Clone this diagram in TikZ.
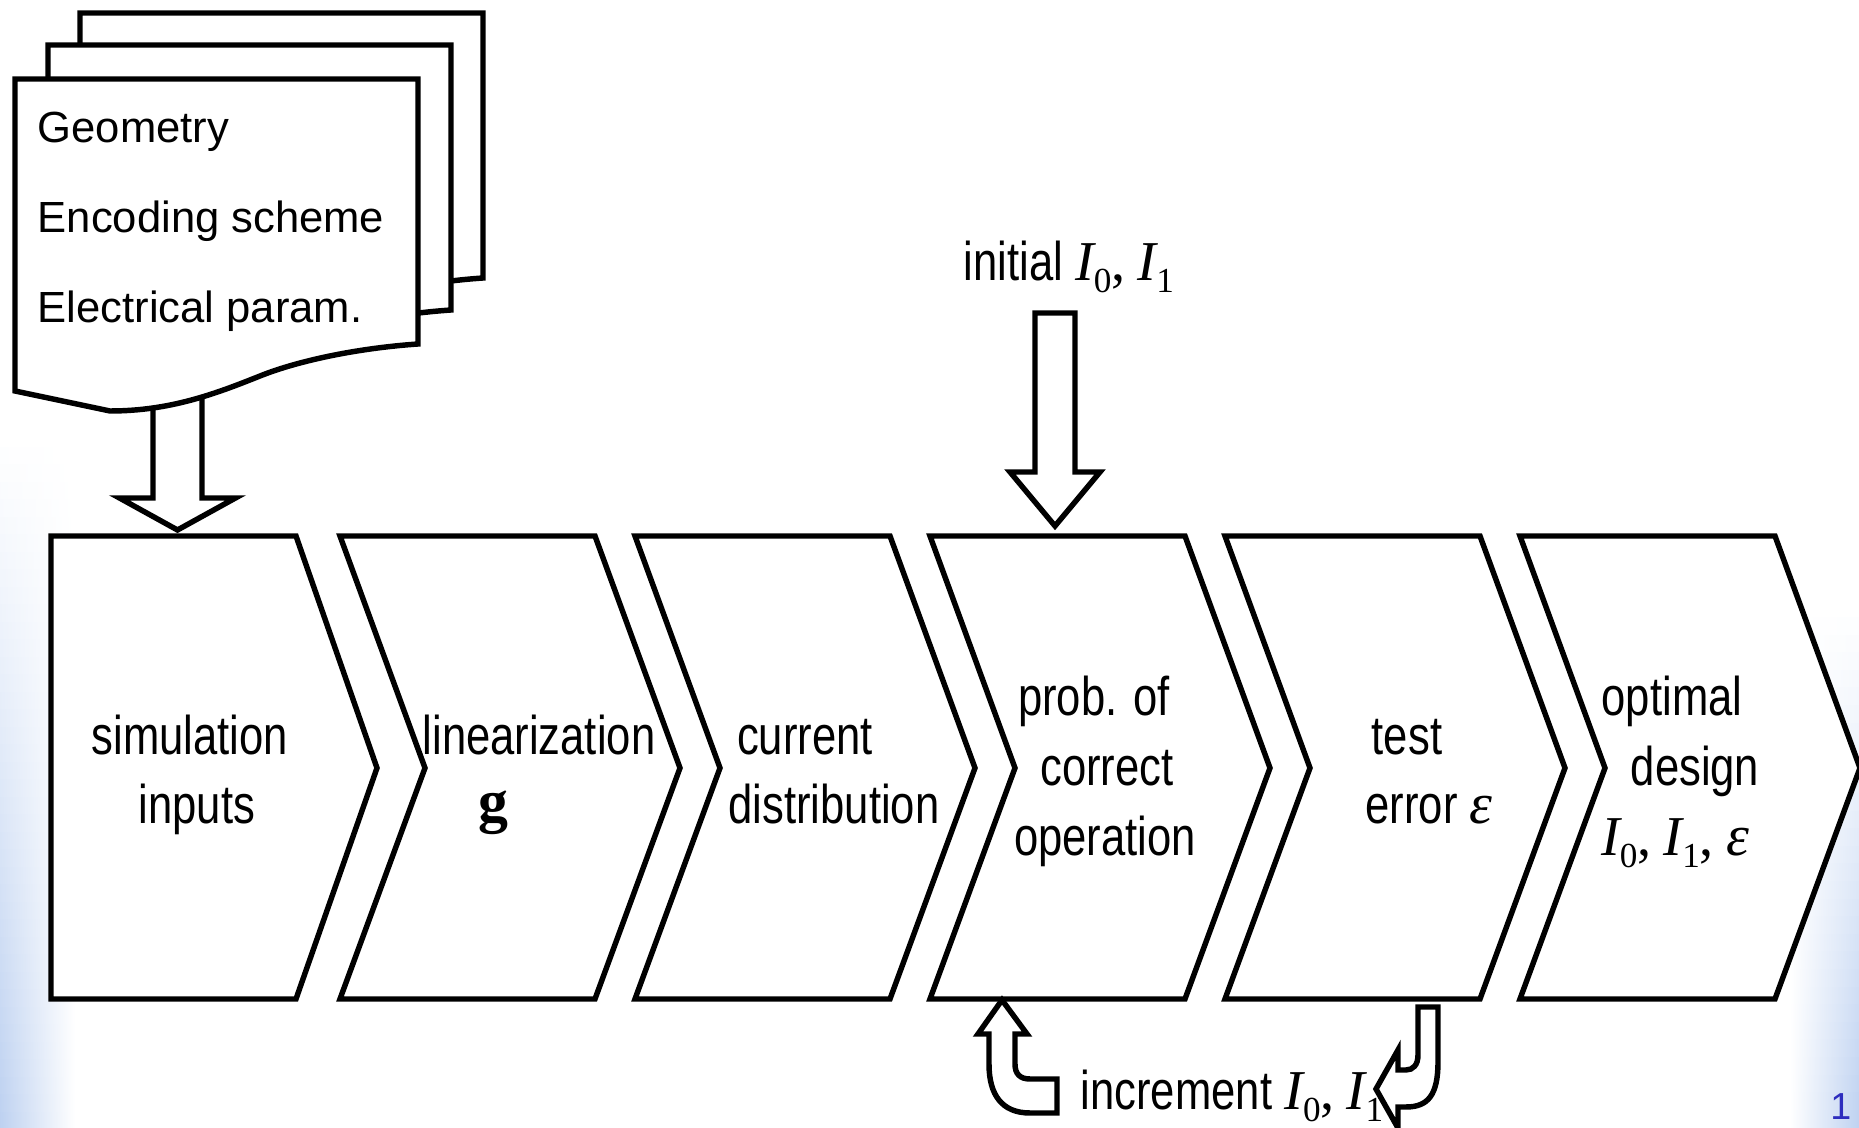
\documentclass[tikz,border=0pt]{standalone}
\usepackage{fontspec}
\setmainfont{Liberation Sans}
\newfontfamily\labfont[FakeStretch=0.8]{Liberation Sans}
\newfontfamily\serfont{Liberation Serif}

\definecolor{edgeblue}{RGB}{188,208,240}
\definecolor{pagenum}{RGB}{45,45,190}

% label fonts
\newcommand{\lab}{\labfont\fontsize{15.5pt}{18pt}\selectfont}
\newcommand{\docsize}{\fontsize{12.4pt}{15pt}\selectfont}
% italic current symbol with an upright subscript
\newcommand{\Isub}[1]{{\serfont\itshape\fontsize{16pt}{18pt}\selectfont I}\raisebox{-3.4pt}{\serfont\fontsize{10pt}{12pt}\selectfont #1}}
\newcommand{\cma}{{\serfont\fontsize{16pt}{18pt}\selectfont ,}}
\newcommand{\epsv}{{\serfont\itshape\fontsize{16.5pt}{18pt}\selectfont ε}}

\tikzset{
  outline/.style={draw=black, line width=1.55pt, fill=white, line join=miter},
  lbl/.style={anchor=base, inner sep=0pt, font=\lab},
  doctext/.style={anchor=base west, inner sep=0pt, font=\docsize},
}

\begin{document}
\begin{tikzpicture}[x=0.01cm, y=-0.01cm]
\useasboundingbox (0,0) rectangle (1859,1128);

% soft tinted page edges, growing stronger towards the bottom
\foreach \k in {0,...,39} {
  \pgfmathsetmacro{\pct}{\k*2.5}
  \fill[left color=edgeblue!\pct!white, right color=white]
    (0,{430+\k*17.5}) rectangle (75,{430+(\k+1)*17.5+0.6});
}
\foreach \k in {0,...,29} {
  \pgfmathsetmacro{\pct}{\k*3.3}
  \fill[left color=white, right color=edgeblue!\pct!white]
    (1790,{600+\k*17.6}) rectangle (1859,{600+(\k+1)*17.6+0.6});
}

% block arrow from the input sheets into the first stage
\coordinate (b1in) at (177.5,530);
\draw[outline, shift={(b1in)}] (-24.5,-135) -- (24.5,-135) -- (24.5,-32) -- (58,-32)
  -- (0,0) -- (-58,-32) -- (-24.5,-32) -- cycle;

% stacked input sheets with wavy lower edge
\foreach \dx/\dy in {65/-66, 33/-34, 0/0} {
  \draw[outline, shift={(\dx,\dy)}] (15,79) -- (418,79) -- (418,344)
    .. controls (360,348) and (300,360) .. (260,376)
    .. controls (215,394) and (170,411) .. (110,411) -- (15,391) -- cycle;
}
\node[doctext] (g1) at (37,143) {Geometry};
\node[doctext] (g2) at (37,233) {Encoding scheme};
\node[doctext] (g3) at (37,323) {Electrical param.};

% process stages
\draw[outline] (51,536) -- (296,536) -- (377,768) -- (296,999) -- (51,999) -- cycle;
\foreach \L in {340,635,930,1225,1520} {
  \draw[outline] (\L,536) -- ++(255,0) -- ++(85,232) -- ++(-85,231) -- ++(-255,0)
    -- ++(85,-231) -- cycle;
}

% stage labels
\node[lbl] (t1a) at (190,755) {simulation};
\node[lbl] (t1b) at (197,824) {inputs};
\node[lbl] (t2a) at (539,755) {linearization};
\node[anchor=base, inner sep=0pt] (t2b) at (493,822) {\serfont\bfseries\fontsize{17pt}{20pt}\selectfont g};
\node[lbl] (t3a) at (805,755) {current};
\node[lbl] (t3b) at (834,824) {distribution};
\node[lbl] (t4a) at (1094,716) {prob. of};
\node[lbl] (t4b) at (1107,786) {correct};
\node[lbl] (t4c) at (1105,856) {operation};
\node[lbl] (t5a) at (1407,755) {test};
\node[lbl] (t5b) at (1429,824) {error \epsv};
\node[lbl] (t6a) at (1672,716) {optimal};
\node[lbl] (t6b) at (1695,786) {design};
\node[lbl] (t6c) at (1675,856) {\Isub{0}\cma{} \Isub{1}\cma{} \epsv};

% initial currents fed into stage four
\node[lbl, anchor=base west] (init) at (963,281) {initial \Isub{0}\cma{} \Isub{1}};
\coordinate (b4in) at (1055,526);
\draw[outline, shift={(b4in)}] (-20,-213) -- (20,-213) -- (20,-54) -- (45,-54)
  -- (0,0) -- (-45,-54) -- (-20,-54) -- cycle;

% feedback loop: test error back to stage four
\coordinate (b5out) at (1428,1000);
\draw[outline, shift={(b5out)}] (-10,7) -- (10,7) -- (10,62)
  .. controls (10,95) and (0,107) .. (-22,107) -- (-30,107) -- (-30,128)
  -- (-52,89) -- (-30,50) -- (-30,70) -- (-22,70)
  .. controls (-15,70) and (-10,65) .. (-10,55) -- cycle;
\coordinate (b4out) at (1002,1000);
\draw[outline, shift={(b4out)}] (0,0) -- (25,34) -- (13,34) -- (13,64)
  .. controls (13,74) and (18,79) .. (28,79) -- (55,79) -- (55,113) -- (28,113)
  .. controls (0,113) and (-13,95) .. (-13,64) -- (-13,34) -- (-24,34) -- cycle;
\node[lbl, anchor=base west] (incr) at (1080,1110) {increment \Isub{0}\cma{} \Isub{1}};

% page number
\node[anchor=base east, inner sep=0pt, text=pagenum, font=\fontsize{10.7pt}{12pt}\selectfont] (pg) at (1852,1120) {1};
\end{tikzpicture}
\end{document}
